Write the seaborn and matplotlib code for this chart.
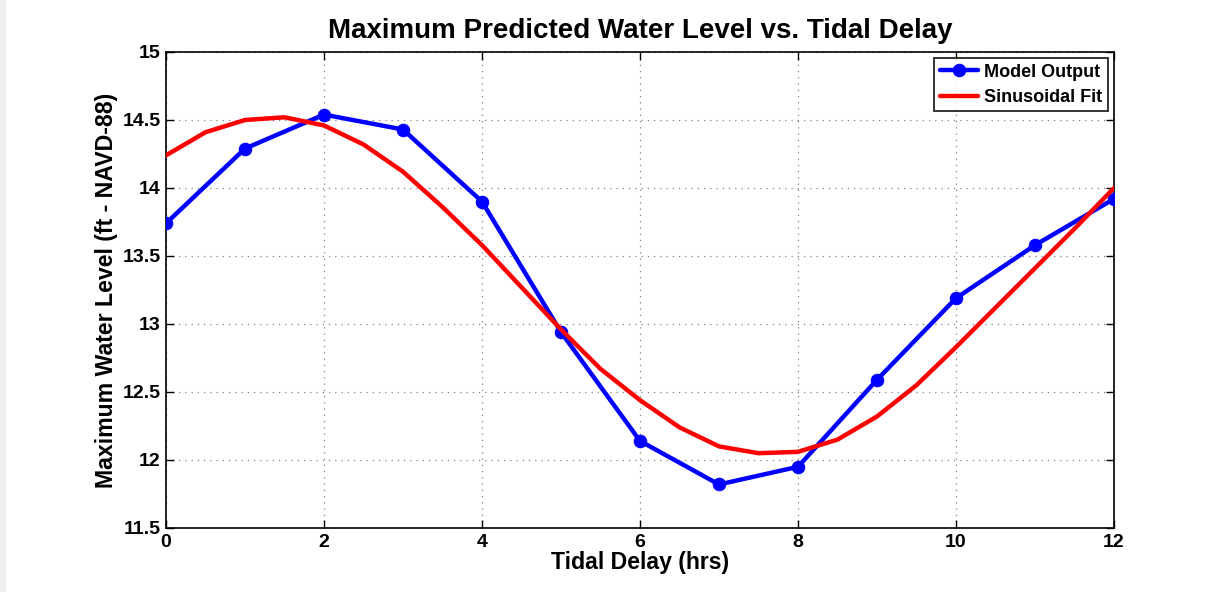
import matplotlib
matplotlib.use("Agg")
import matplotlib.pyplot as plt
import seaborn as sns
import pandas as pd

# Model output, one run per hour of tidal delay
delay_hrs = [0, 1, 2, 3, 4, 5, 6, 7, 8, 9, 10, 11, 12]
model_level = [13.74, 14.29, 14.54, 14.43, 13.90, 12.94, 12.14,
               11.82, 11.95, 12.59, 13.19, 13.58, 13.92]

# Sinusoidal fit evaluated every half hour
fit_hrs = [0, 0.5, 1, 1.5, 2, 2.5, 3, 3.5, 4, 4.5, 5, 5.5, 6, 6.5, 7, 7.5,
           8, 8.5, 9, 9.5, 10, 10.5, 11, 11.5, 12]
fit_level = [14.24, 14.41, 14.50, 14.52, 14.46, 14.32, 14.12, 13.86, 13.58,
             13.27, 12.96, 12.67, 12.44, 12.24, 12.10, 12.05, 12.06, 12.15,
             12.32, 12.55, 12.83, 13.12, 13.41, 13.70, 14.00]

x_ticks = [0, 2, 4, 6, 8, 10, 12]
y_ticks = [11.5, 12, 12.5, 13, 13.5, 14, 14.5, 15]
y_tick_labels = ["11.5", "12", "12.5", "13", "13.5", "14", "14.5", "15"]

sns.set_theme(style="white")
plt.rcParams["font.family"] = ["Liberation Sans", "DejaVu Sans"]
plt.rcParams["font.weight"] = "bold"
plt.rcParams["text.color"] = "black"
plt.rcParams["axes.labelcolor"] = "black"
plt.rcParams["xtick.color"] = "black"
plt.rcParams["ytick.color"] = "black"

model_df = pd.DataFrame({"delay": delay_hrs, "level": model_level})
fit_df = pd.DataFrame({"delay": fit_hrs, "level": fit_level})

fig = plt.figure(figsize=(12.29, 5.92), dpi=100)
fig.patch.set_facecolor("white")
ax = fig.add_axes([166 / 1229, 1 - 528 / 592, (1114 - 166) / 1229, (528 - 52) / 592])

sns.lineplot(data=model_df, x="delay", y="level", ax=ax, color="#0000ff",
             linewidth=3.2, marker="o", markersize=9, markeredgecolor="#0000ff",
             label="Model Output", zorder=3)
sns.lineplot(data=fit_df, x="delay", y="level", ax=ax, color="#ff0000",
             linewidth=3.2, label="Sinusoidal Fit", zorder=4)

ax.set_xlim(0, 12)
ax.set_ylim(11.5, 15)
ax.set_xticks(x_ticks)
ax.set_xticklabels([str(t) for t in x_ticks])
ax.set_yticks(y_ticks)
ax.set_yticklabels(y_tick_labels)

ax.grid(True, color="#808080", linestyle=(0, (1, 4)), linewidth=0.9)
ax.tick_params(direction="in", length=6, width=1, top=True, right=True,
               bottom=True, left=True, labelsize=14, pad=4, color="black",
               labelcolor="black")
for lbl in ax.get_xticklabels() + ax.get_yticklabels():
    lbl.set_fontweight("bold")
for side in ax.spines.values():
    side.set_color("black")
    side.set_linewidth(1.2)

ax.set_xlabel("Tidal Delay (hrs)", fontsize=16.6, fontweight="bold",
              labelpad=0, color="black")
ax.set_ylabel("Maximum Water Level (ft - NAVD-88)", fontsize=16.7,
              fontweight="bold", labelpad=3, color="black")
ax.set_title("Maximum Predicted Water Level vs. Tidal Delay", fontsize=20,
             fontweight="bold", pad=10, color="black")

leg = ax.legend(loc="upper right", fontsize=13, frameon=True, fancybox=False,
                edgecolor="black", borderpad=0.3, labelspacing=0.45,
                handlelength=2.1, handletextpad=0.35, borderaxespad=0.35)
leg.get_frame().set_linewidth(1.4)
for t in leg.get_texts():
    t.set_fontweight("bold")
    t.set_color("black")

# Light strip along the left edge of the canvas
fig.patches.append(plt.Rectangle((0, 0), 6 / 1229, 1, transform=fig.transFigure,
                                 facecolor="#efefef", edgecolor="none"))

fig.savefig("out.png", dpi=100)
